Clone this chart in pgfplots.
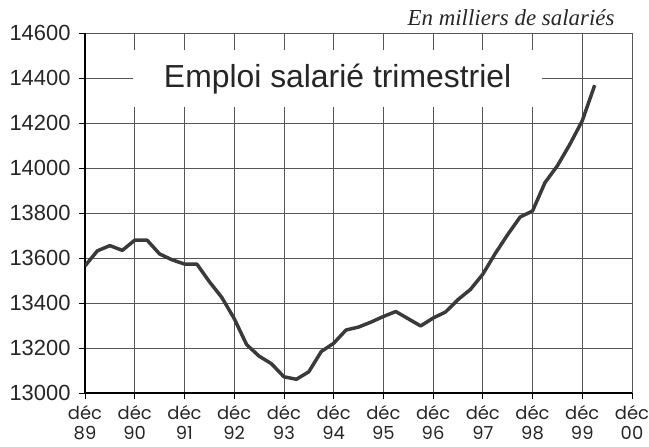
\documentclass[border=0pt]{standalone}
\usepackage{fontspec}
\setmainfont{Liberation Sans}
\newfontfamily\serif{Liberation Serif}
\newfontfamily\poppins{Poppins}
\usepackage{pgfplots}
\pgfplotsset{compat=1.18}
\definecolor{linegray}{HTML}{3A3A3A}
\definecolor{gridgray}{HTML}{555555}

\begin{document}
\begin{tikzpicture}
  \begin{axis}[
      name=ax,
      scale only axis,
      width=547bp, height=360bp,
      xmin=0, xmax=11,
      ymin=13000, ymax=14600,
      xtick={0,1,...,11},
      xticklabels={{déc\\89},{déc\\90},{déc\\91},{déc\\92},{déc\\93},{déc\\94},
                   {déc\\95},{déc\\96},{déc\\97},{déc\\98},{déc\\99},{déc\\00}},
      ytick={13000,13200,...,14600},
      scaled y ticks=false,
      /pgf/number format/assume math mode=true,
      /pgf/number format/1000 sep={},
      axis x line*=bottom,
      axis y line*=left,
      axis line style={-, line width=1.3pt, black},
      tick align=outside,
      major tick length=6bp,
      tick style={line width=0.8pt, black},
      grid=major,
      major grid style={gridgray, line width=0.7pt},
      yticklabel style={font=\fontsize{22}{24}\selectfont, text=black!85, xshift=-5bp},
      xticklabel style={font=\poppins\fontsize{18}{20}\selectfont, align=center, text=black!85, yshift=-5bp, inner ysep=1bp},
    ]
    % rectangle blanc sous le titre
    \fill[white] (axis cs:0.97,14271) rectangle (axis cs:9.2,14524);
    \node[font=\fontsize{32}{34}\selectfont, text=black!85] at (axis cs:5.08,14395) {Emploi salarié trimestriel};

    \addplot[linegray, line width=3.5pt, line join=round] table {
      0.00 13565
      0.25 13632
      0.50 13655
      0.75 13634
      1.00 13679
      1.25 13679
      1.50 13618
      1.75 13592
      2.00 13573
      2.25 13573
      2.50 13495
      2.75 13425
      3.00 13331
      3.25 13215
      3.50 13164
      3.75 13130
      4.00 13072
      4.25 13061
      4.50 13094
      4.75 13184
      5.00 13221
      5.25 13280
      5.50 13293
      5.75 13315
      6.00 13340
      6.25 13362
      6.50 13330
      6.75 13298
      7.00 13333
      7.25 13360
      7.50 13415
      7.75 13460
      8.00 13528
      8.25 13620
      8.50 13704
      8.75 13782
      9.00 13809
      9.25 13935
      9.50 14010
      9.75 14105
      10.00 14210
      10.25 14368
    };
  \end{axis}
  \node[anchor=base east, font=\serif\itshape\fontsize{23}{24}\selectfont, text=black!85]
    at ([shift={(-14bp,7bp)}]ax.north east) {En milliers de salariés};
  \pgfresetboundingbox
  \path[use as bounding box] ([shift={(-85bp,-54bp)}]ax.south west) rectangle ([shift={(17bp,33bp)}]ax.north east);
\end{tikzpicture}
\end{document}
